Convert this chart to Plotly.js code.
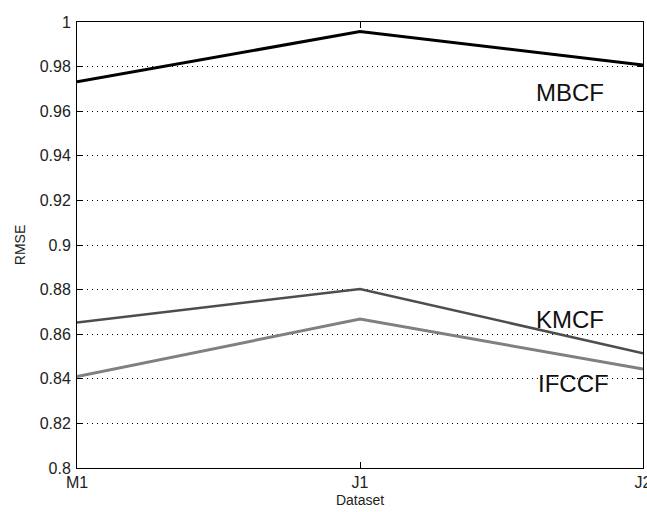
<!DOCTYPE html>
<html>
<head>
<meta charset="utf-8">
<script src="https://cdn.plot.ly/plotly-3.0.1.min.js"></script>
<style>html,body{margin:0;padding:0;background:#fff;}#chart{width:647px;height:512px;}</style>
</head>
<body>
<div id="chart"></div>
<script>
const categories = ["M1", "J1", "J2"];
const seriesNames = ["MBCF", "KMCF", "IFCCF"];
const mbcf = [0.9732, 0.9957, 0.9807];
const kmcf = [0.8652, 0.8803, 0.8514];
const ifccf = [0.8410, 0.8668, 0.8444];
const yTicks = [0.8, 0.82, 0.84, 0.86, 0.88, 0.9, 0.92, 0.94, 0.96, 0.98, 1];
const yTickText = ["0.8", "0.82", "0.84", "0.86", "0.88", "0.9", "0.92", "0.94", "0.96", "0.98", "1"];

const styles = [
  {color: "#000000", width: 3},
  {color: "#4d4d4d", width: 2.5},
  {color: "#808080", width: 3}
];
const values = [mbcf, kmcf, ifccf];
const traces = values.map((v, i) => ({
  x: categories, y: v, type: "scatter", mode: "lines",
  name: seriesNames[i], line: styles[i], hoverinfo: "none"
}));

const labelPos = [[0.871, 0.843], [0.871, 0.332], [0.878, 0.19]];
const annotations = seriesNames.map((n, i) => ({
  text: n, xref: "paper", yref: "paper", x: labelPos[i][0], y: labelPos[i][1],
  showarrow: false, xanchor: "center", yanchor: "middle",
  font: {family: "Liberation Sans, Arial, sans-serif", size: 24, color: "#111"}
}));

const layout = {
  width: 647, height: 512,
  margin: {l: 77, r: 4, t: 22, b: 44},
  paper_bgcolor: "#fff", plot_bgcolor: "#fff",
  showlegend: false,
  font: {family: "Liberation Sans, Arial, sans-serif", color: "#222"},
  xaxis: {
    type: "category", categoryarray: categories, range: [0, 2],
    showline: true, linecolor: "#000", linewidth: 1, mirror: "allticks",
    ticks: "inside", ticklen: 6, tickcolor: "#000", showgrid: false, zeroline: false,
    tickfont: {size: 16, color: "#222"},
    title: {text: "Dataset", font: {size: 14, color: "#222"}, standoff: 4}
  },
  yaxis: {
    range: [0.8, 1], tickvals: yTicks, ticktext: yTickText,
    showline: true, linecolor: "#000", linewidth: 1, mirror: "allticks",
    ticks: "inside", ticklen: 6, tickcolor: "#000",
    showgrid: true, gridcolor: "#000", gridwidth: 1, griddash: "1px,4px", zeroline: false,
    tickfont: {size: 16, color: "#222"}, ticklabelstandoff: 2,
    title: {text: "RMSE", font: {size: 14, color: "#222"}, standoff: 10}
  },
  annotations: annotations
};

Plotly.newPlot("chart", traces, layout, {staticPlot: true, displayModeBar: false});
</script>
</body>
</html>
